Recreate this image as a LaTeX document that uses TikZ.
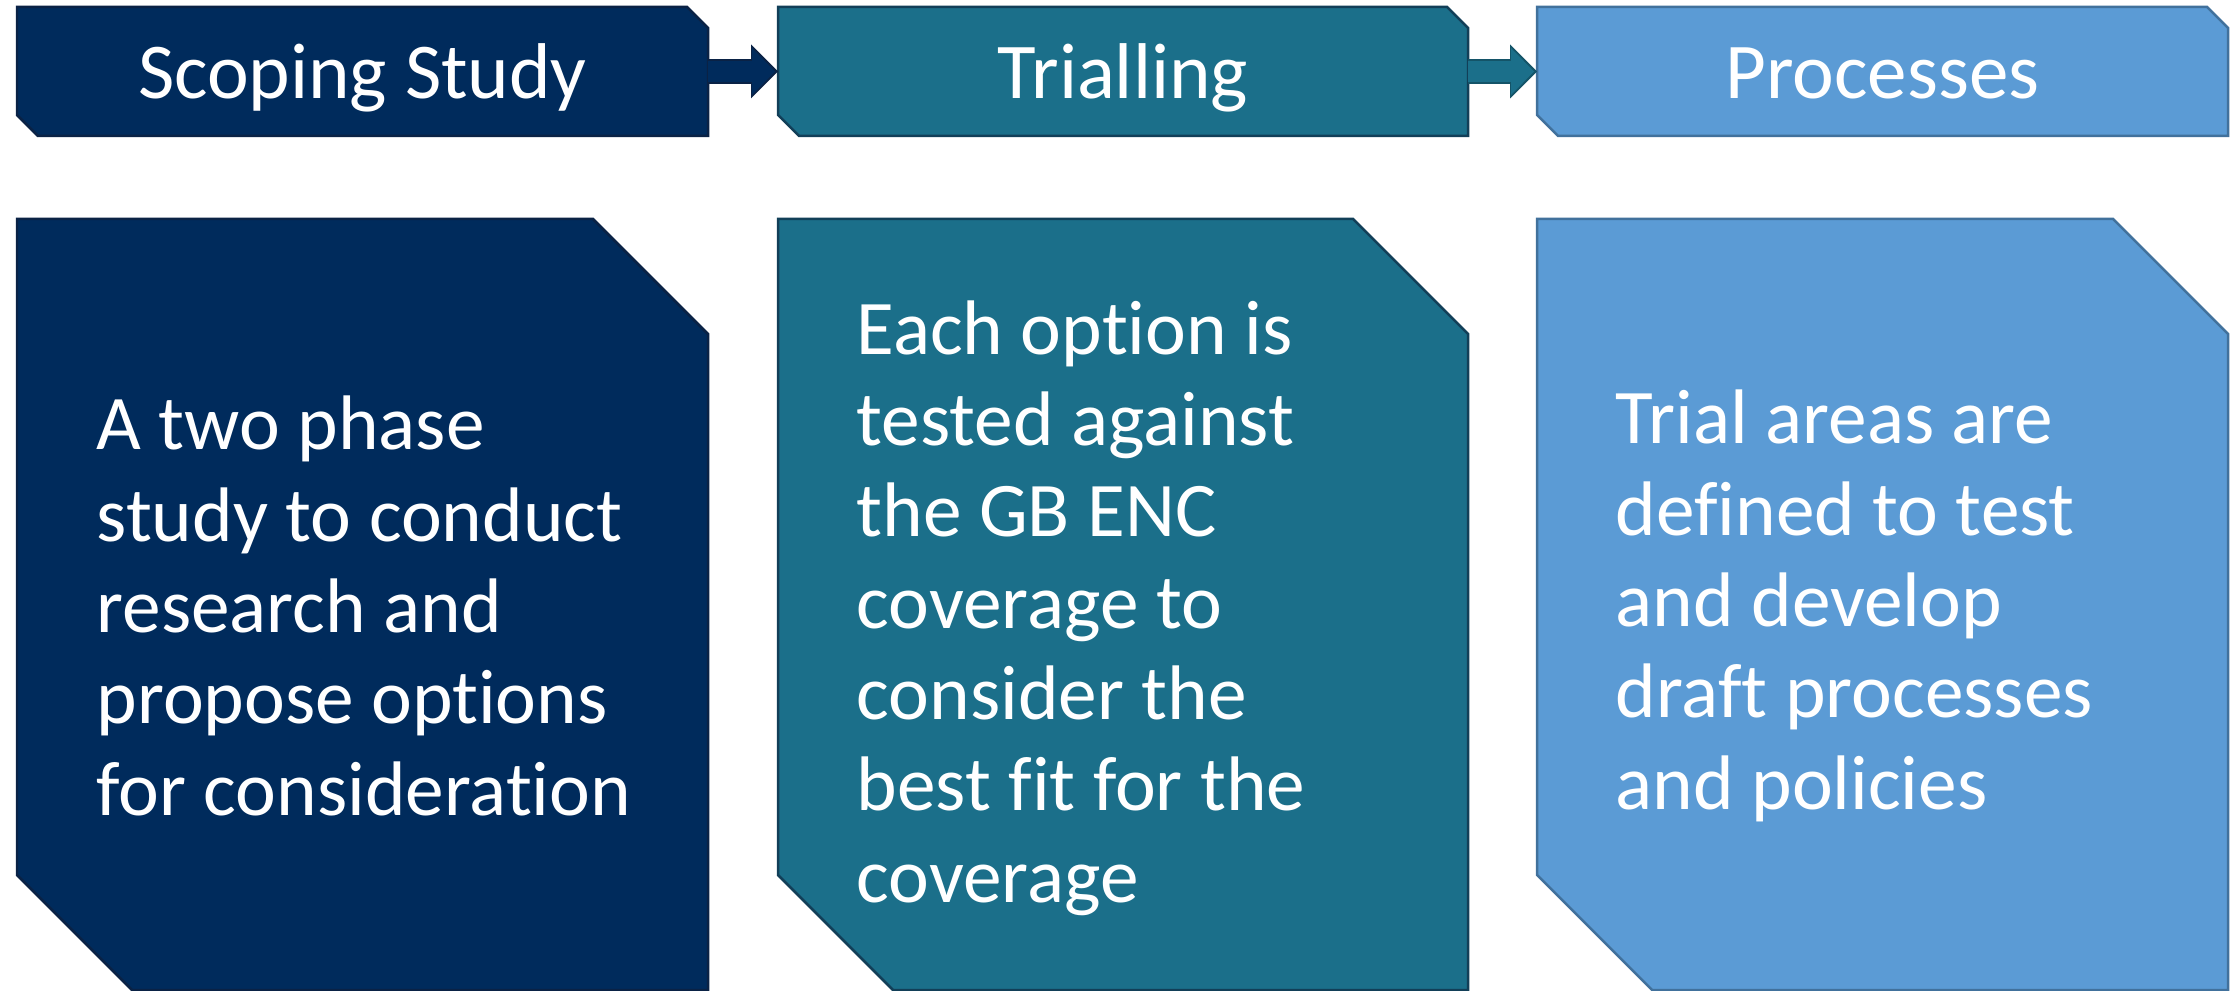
\documentclass[tikz,border=0pt]{standalone}
\usepackage{fontspec}
\setmainfont{Carlito}[Ligatures=NoCommon]
\usetikzlibrary{arrows.meta}

\definecolor{navyfill}{HTML}{002B5C}
\definecolor{navyedge}{HTML}{0A2245}
\definecolor{tealfill}{HTML}{1B6F8A}
\definecolor{tealedge}{HTML}{123F58}
\definecolor{tealarrow}{HTML}{145468}
\definecolor{bluefill}{HTML}{5B9BD5}
\definecolor{blueedge}{HTML}{41719C}

\begin{document}
\begin{tikzpicture}[
    boxline/.style={line width=0.025cm, line join=miter},
    headtext/.style={text=white, inner sep=0, outer sep=0, minimum height=1.29cm,
      text height=0.75cm, text depth=0.2cm, font=\fontsize{22.5}{27}\selectfont},
    bodytext/.style={anchor=west, align=left, text=white, inner sep=0,
      font=\fontsize{22}{26}\selectfont}
  ]
    %\draw[help lines, step=1] (0, 0) grid (22, 10);
    \useasboundingbox (0, 0) rectangle (22.37, 9.90);

    % top row
    \filldraw[boxline, draw=navyedge, fill=navyfill] (0.17, 9.83) -- (6.87, 9.83) -- (7.08, 9.62)
      -- (7.08, 8.54) -- (0.38, 8.54) -- (0.17, 8.75) -- cycle;
    \filldraw[boxline, draw=tealedge, fill=tealfill] (7.78, 9.83) -- (14.47, 9.83) -- (14.68, 9.62)
      -- (14.68, 8.54) -- (7.99, 8.54) -- (7.78, 8.75) -- cycle;
    \filldraw[boxline, draw=blueedge, fill=bluefill] (15.37, 9.83) -- (22.07, 9.83) -- (22.28, 9.62)
      -- (22.28, 8.54) -- (15.58, 8.54) -- (15.37, 8.75) -- cycle;

    % bottom row
    \filldraw[boxline, draw=navyedge, fill=navyfill] (0.17, 7.71) -- (5.93, 7.71) -- (7.08, 6.56)
      -- (7.08, 0) -- (1.32, 0) -- (0.17, 1.15) -- cycle;
    \filldraw[boxline, draw=tealedge, fill=tealfill] (7.78, 7.71) -- (13.53, 7.71) -- (14.68, 6.56)
      -- (14.68, 0) -- (8.93, 0) -- (7.78, 1.15) -- cycle;
    \filldraw[boxline, draw=blueedge, fill=bluefill] (15.37, 7.71) -- (21.13, 7.71) -- (22.28, 6.56)
      -- (22.28, 0) -- (16.52, 0) -- (15.37, 1.15) -- cycle;

    \node[headtext, minimum width=6.91cm] (scoping) at (3.625, 9.185) {Scoping Study};
    \node[headtext, minimum width=6.90cm] (trialling) at (11.23, 9.185) {Trialling};
    \node[headtext, minimum width=6.91cm] (processes) at (18.825, 9.185) {Processes};

    \node[bodytext] (scopingtext) at (0.96, 3.84)
      {A two phase\\study to conduct\\research and\\propose options\\for consideration};
    \node[bodytext] (triallingtext) at (8.56, 3.82)
      {Each option is\\tested against\\the GB ENC\\coverage to\\consider the\\best fit for the\\coverage};
    \node[bodytext] (processestext) at (16.15, 3.84)
      {Trial areas are\\defined to test\\and develop\\draft processes\\and policies};

    % arrows between the headers
    \draw[line width=0.25cm, navyedge, -{Triangle[length=0.27cm, width=0.54cm, line width=0pt]}]
      (scoping.east) -- (trialling.west);
    \draw[line width=0.21cm, navyfill, shorten >=0.03cm,
      -{Triangle[length=0.23cm, width=0.47cm, line width=0pt]}]
      (scoping.east) -- (trialling.west);
    \draw[line width=0.25cm, tealarrow, -{Triangle[length=0.27cm, width=0.54cm, line width=0pt]}]
      (trialling.east) -- (processes.west);
    \draw[line width=0.21cm, tealfill, shorten >=0.03cm,
      -{Triangle[length=0.23cm, width=0.47cm, line width=0pt]}]
      (trialling.east) -- (processes.west);

  \end{tikzpicture}
\end{document}
